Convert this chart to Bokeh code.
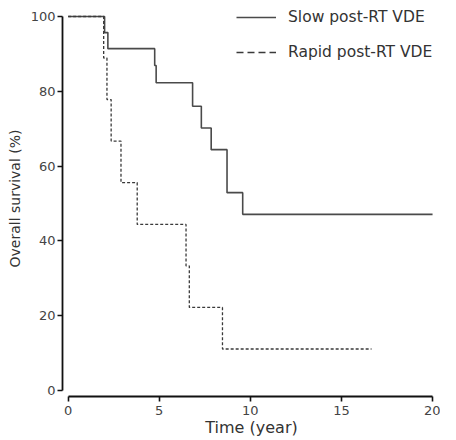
from bokeh.plotting import figure
from bokeh.models import Range1d, FixedTicker, Legend, LegendItem, Title
from bokeh.embed import file_html
from bokeh.resources import INLINE

# Data
slow_t = [0, 2.0, 2.18, 4.75, 4.83, 6.83, 7.31, 7.85, 8.72, 9.58, 20.0]
slow_s = [100, 95.7, 91.4, 86.9, 82.3, 76.0, 70.2, 64.4, 52.9, 47.1, 47.1]
rapid_t = [0, 1.95, 2.13, 2.36, 2.9, 3.79, 6.47, 6.65, 8.47, 16.65]
rapid_s = [100, 88.9, 77.8, 66.7, 55.6, 44.4, 33.3, 22.2, 11.1, 11.1]
x_ticks = [0, 5, 10, 15, 20]
y_ticks = [0, 20, 40, 60, 80, 100]
labels = ["Slow post-RT VDE", "Rapid post-RT VDE"]
x_label = "Time (year)"
y_label = "Overall survival (%)"

FONT = "DejaVu Sans"

p = figure(width=440, height=440, output_backend="svg", toolbar_location=None,
           x_range=Range1d(-0.310, 20.436), y_range=Range1d(-1.604, 104.28),
           min_border_left=59, min_border_right=0, min_border_top=0, min_border_bottom=44)
p.outline_line_color = None
p.xgrid.visible = False
p.ygrid.visible = False
p.background_fill_color = "white"
p.border_fill_color = "white"

r_slow = p.step(slow_t, slow_s, mode="after", line_color="#4a4a4a", line_width=1.6)
r_rapid = p.step(rapid_t, rapid_s, mode="after", line_color="#3a3a3a", line_width=1.3,
                 line_dash="3 2")
# legend sample for the dashed series (longer dashes, as in the reference); drawn off-range
r_rapid_leg = p.line(x=[-5, -4], y=[-50, -50], line_color="#3a3a3a", line_width=1.3,
                     line_dash="7 4")

for ax in (p.xaxis[0], p.yaxis[0]):
    ax.axis_line_width = 1.8
    ax.axis_line_color = "#111111"
    ax.major_tick_line_width = 1.6
    ax.major_tick_line_color = "#111111"
    ax.major_tick_in = 0
    ax.major_tick_out = 5
    ax.minor_tick_line_color = None
    ax.major_label_text_font = FONT
    ax.major_label_text_font_size = "13px"
    ax.major_label_text_color = "#444444"
    ax.axis_label_text_font = FONT
    ax.axis_label_text_font_style = "normal"
    ax.axis_label_text_color = "#333333"

p.xaxis.ticker = FixedTicker(ticks=x_ticks)
p.yaxis.ticker = FixedTicker(ticks=y_ticks)
p.xaxis.bounds = (0, 20)
p.yaxis.bounds = (0, 100)
p.xaxis.axis_label = x_label
p.xaxis.axis_label_text_font_size = "16px"
p.xaxis.major_label_standoff = 4
p.yaxis.major_label_standoff = 2
p.xaxis.axis_label_standoff = 0

# vertical axis title, shifted slightly downward as in the reference
ytitle = Title(text=y_label, align="center", offset=-15, standoff=9,
               text_font=FONT, text_font_size="14px", text_font_style="normal",
               text_color="#333333")
p.add_layout(ytitle, "left")

legend = Legend(items=[LegendItem(label=labels[0], renderers=[r_slow]),
                       LegendItem(label=labels[1], renderers=[r_rapid_leg])],
                location=(174, 334), glyph_width=40, glyph_height=20, label_height=20,
                label_standoff=12, spacing=15, padding=0, margin=0,
                border_line_alpha=0, background_fill_alpha=0,
                label_text_font=FONT, label_text_font_size="15.5px", label_text_color="#333333")
p.add_layout(legend, "center")

open("out.html", "w").write(file_html(p, INLINE))
